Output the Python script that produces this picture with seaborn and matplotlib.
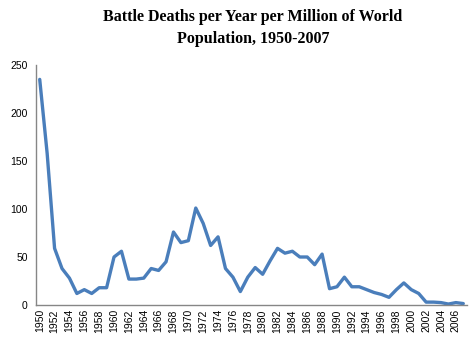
import matplotlib
matplotlib.use("Agg")
import matplotlib.pyplot as plt
import seaborn as sns
import pandas as pd

years = list(range(1950, 2008))
deaths_per_million = [
    235, 158, 59, 38, 28, 12, 16, 12, 18, 18,
    50, 56, 27, 27, 28, 38, 36, 45, 76, 65,
    67, 101, 85, 62, 71, 38, 29, 14, 29, 39,
    32, 46, 59, 54, 56, 50, 50, 42, 53, 17,
    19, 29, 19, 19, 16, 13, 11, 8, 16, 23,
    16, 12, 3, 3, 2.5, 1, 2.5, 1.5,
]
tick_years = list(range(1950, 2008, 2))

df = pd.DataFrame({"year": years, "deaths": deaths_per_million})

sns.set_style("white")
plt.rcParams["font.family"] = ["Liberation Sans", "DejaVu Sans"]

fig = plt.figure(figsize=(4.73, 3.46), dpi=100)
ax = fig.add_axes([36 / 473, 41 / 346, 431 / 473, 240 / 346])

sns.lineplot(data=df, x="year", y="deaths", ax=ax, color="#4A7EBB",
             linewidth=2.4, solid_joinstyle="round")

ax.set_xlim(1949.5, 2007.5)
ax.set_ylim(0, 250)
ax.set_yticks(range(0, 251, 50))
ax.set_xticks(tick_years)
ax.set_xticklabels([str(y) for y in tick_years], rotation=90, fontsize=7.5)
ax.tick_params(axis="y", labelsize=7.5, length=0, pad=6, labelcolor="black")
ax.tick_params(axis="x", length=0, pad=3, labelcolor="black")
ax.set_xlabel("")
ax.set_ylabel("")

for side in ("top", "right"):
    ax.spines[side].set_visible(False)
for side in ("left", "bottom"):
    ax.spines[side].set_color("#868686")
    ax.spines[side].set_linewidth(1.0)

title_font = dict(ha="center", va="center", fontsize=11.5, fontweight="bold",
                  family=["Liberation Serif"], color="black")
fig.text(253 / 473, 1 - 17 / 346, "Battle Deaths per Year per Million of World",
         **title_font)
fig.text(253 / 473, 1 - 39 / 346, "Population, 1950-2007", **title_font)

fig.savefig("out.png", dpi=100)
